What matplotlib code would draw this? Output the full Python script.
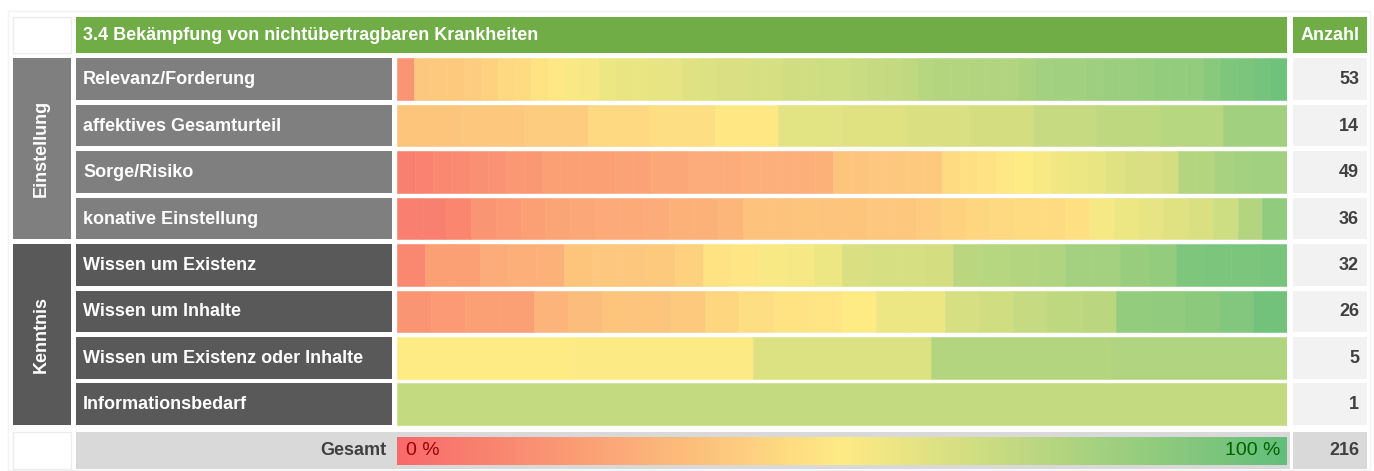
import matplotlib
matplotlib.use("Agg")
import matplotlib.pyplot as plt
from matplotlib.colors import LinearSegmentedColormap
from matplotlib.patches import Rectangle
import numpy as np

plt.rcParams['font.family'] = ['Liberation Sans', 'DejaVu Sans']

# ---------------- data ----------------
title = "3.4 Bekämpfung von nichtübertragbaren Krankheiten"
count_header = "Anzahl"
row_labels = ["Relevanz/Forderung", "affektives Gesamturteil", "Sorge/Risiko",
              "konative Einstellung", "Wissen um Existenz", "Wissen um Inhalte",
              "Wissen um Existenz oder Inhalte", "Informationsbedarf"]
group_labels = ["Einstellung", "Kenntnis"]
group_sizes = [4, 4]
counts = [53, 14, 49, 36, 32, 26, 5, 1]
total_label = "Gesamt"
total_count = 216
scale_labels = ["0 %", "100 %"]

# per-document scores (0-100), sorted, one bar segment each
values_relevanz = [17, 36, 37, 37, 38, 40, 43, 44, 47, 49, 52, 53, 56, 57, 57, 58, 58,
                   60, 61, 62, 62, 63, 63, 65, 65, 66, 66, 67, 68, 69, 70, 73, 74, 74,
                   75, 75, 75, 77, 79, 80, 80, 81, 82, 82, 83, 84, 84, 84, 88, 91, 92,
                   94, 96]
values_affektiv = [35, 36, 38, 43, 45, 49, 59, 60, 62, 64, 68, 71, 73, 80]
values_sorge = [9, 10, 12, 13, 15, 16, 18, 18, 21, 21, 21, 21, 22, 22, 24, 24, 26, 26,
                26, 27, 27, 27, 27, 28, 35, 35, 36, 36, 37, 37, 44, 46, 47, 49, 50, 52,
                55, 56, 57, 60, 62, 62, 64, 74, 74, 78, 79, 80, 80]
values_konativ = [9, 9, 11, 17, 19, 21, 23, 24, 25, 25, 26, 28, 28, 30, 34, 34, 35, 35,
                  35, 36, 36, 38, 40, 42, 43, 44, 44, 46, 53, 56, 58, 60, 62, 66, 74, 85]
values_existenz = [12, 21, 21, 26, 27, 28, 35, 36, 36, 37, 40, 47, 48, 52, 53, 56, 62,
                   63, 63, 64, 72, 73, 74, 75, 79, 79, 83, 84, 91, 92, 92, 93]
values_inhalte = [17, 19, 21, 21, 29, 32, 35, 35, 37, 42, 45, 47, 48, 50, 56, 56, 63,
                  65, 68, 71, 72, 84, 85, 87, 90, 95]
values_oder = [50, 51, 61, 74, 75]
values_info = [69]

row_values = [values_relevanz, values_affektiv, values_sorge, values_konativ,
              values_existenz, values_inhalte, values_oder, values_info]

# ---------------- style ----------------
cmap = LinearSegmentedColormap.from_list("rag", ["#F8696B", "#FFEB84", "#63BE7B"])
HEADER_GREEN = "#70AD47"
group_colors = ["#7F7F7F", "#595959"]
COUNT_BG = "#F2F2F2"
TOTAL_BG = "#D9D9D9"
TEXT_DARK = "#404040"
FS = 13

W, H = 1374, 471
fig = plt.figure(figsize=(W / 100, H / 100), dpi=100)
bg = fig.add_axes([0, 0, 1, 1])
bg.set_xlim(0, W)
bg.set_ylim(H, 0)
bg.axis("off")


def px_axes(x0, y0, x1, y1):
    return fig.add_axes([x0 / W, 1 - y1 / H, (x1 - x0) / W, (y1 - y0) / H])


def cell(x0, y0, x1, y1, fc, ec="none", lw=0):
    bg.add_patch(Rectangle((x0, y0), x1 - x0, y1 - y0, facecolor=fc,
                           edgecolor=ec, linewidth=lw))


# layout (pixels)
GX0, GX1 = 12.5, 70.5
LX0, LX1 = 76, 392
BX0, BX1 = 397, 1287
CX0, CX1 = 1293, 1367
TOP0, PITCH, CH = 58.3, 46.45, 41.7
HY0, HY1 = 16.5, 53.0
TY0, TY1 = 431.7, 468.5

# faint outer frame
cell(8, 11, 1370, 470, "none", "#F3F3F3", 1)

# header
cell(GX0, HY0, GX1, HY1, "white", "#EDEDED", 1)
cell(LX0, HY0, BX1, HY1, HEADER_GREEN)
bg.text(LX0 + 7, (HY0 + HY1) / 2 + 0.5, title, color="white", fontsize=FS,
        fontweight="bold", va="center", ha="left")
cell(CX0, HY0, CX1, HY1, HEADER_GREEN)
bg.text((CX0 + CX1) / 2, (HY0 + HY1) / 2 + 0.5, count_header, color="white",
        fontsize=FS, fontweight="bold", va="center", ha="center")

# rows: label cells and count cells
row_idx = 0
for g, (glabel, gsize) in enumerate(zip(group_labels, group_sizes)):
    gy0 = TOP0 + row_idx * PITCH
    gy1 = TOP0 + (row_idx + gsize - 1) * PITCH + CH
    cell(GX0, gy0, GX1, gy1, group_colors[g])
    bg.text((GX0 + GX1) / 2, (gy0 + gy1) / 2, glabel, color="white",
            fontsize=FS, fontweight="bold", rotation=90, va="center", ha="center")
    for k in range(gsize):
        i = row_idx + k
        y0 = TOP0 + i * PITCH
        cell(LX0, y0, LX1, y0 + CH, group_colors[g])
        bg.text(LX0 + 7, y0 + CH / 2 + 0.5, row_labels[i], color="white", fontsize=FS,
                fontweight="bold", va="center", ha="left")
        cell(CX0, y0, CX1, y0 + CH, COUNT_BG)
        bg.text(CX1 - 8, y0 + CH / 2 + 0.5, str(counts[i]), color=TEXT_DARK,
                fontsize=FS, fontweight="bold", va="center", ha="right")
    row_idx += gsize

# segmented bars
nrows = len(row_values)
ax = px_axes(BX0, TOP0 - (PITCH - CH) / 2, BX1, TOP0 - (PITCH - CH) / 2 + nrows * PITCH)
for i, vals in enumerate(row_values):
    vals = np.asarray(vals, dtype=float)
    n = len(vals)
    lefts = np.arange(n) / n
    cols = cmap(vals / 100.0)
    ax.barh(np.full(n, i), np.full(n, 1.0 / n), left=lefts, height=CH / PITCH,
            color=cols, edgecolor=cols, linewidth=0.4)
ax.set_xlim(0, 1)
ax.set_ylim(nrows - 0.5, -0.5)
ax.axis("off")

# total row
cell(GX0, TY0, GX1, TY1, "white", "#EDEDED", 1)
cell(LX0, TY0, BX1 + 3, TY1, TOTAL_BG)
bg.text(LX1 - 6, (TY0 + TY1) / 2 + 0.5, total_label, color=TEXT_DARK, fontsize=FS,
        fontweight="bold", va="center", ha="right")
cell(CX0, TY0, CX1, TY1, TOTAL_BG)
bg.text(CX1 - 8, (TY0 + TY1) / 2 + 0.5, str(total_count), color=TEXT_DARK,
        fontsize=FS, fontweight="bold", va="center", ha="right")

lax = px_axes(BX0, 437, BX1, 464.5)
lax.imshow(np.linspace(0, 1, 512)[None, :], cmap=cmap, aspect="auto",
           extent=(0, 100, 0, 1))
lax.set_xlim(0, 100)
lax.set_ylim(0, 1)
lax.axis("off")
lax.text(1.0, 0.5, scale_labels[0], color="#9C0006", fontsize=14, va="center", ha="left")
lax.text(99.2, 0.5, scale_labels[1], color="#006100", fontsize=14, va="center", ha="right")

fig.savefig("out.png", dpi=100)
